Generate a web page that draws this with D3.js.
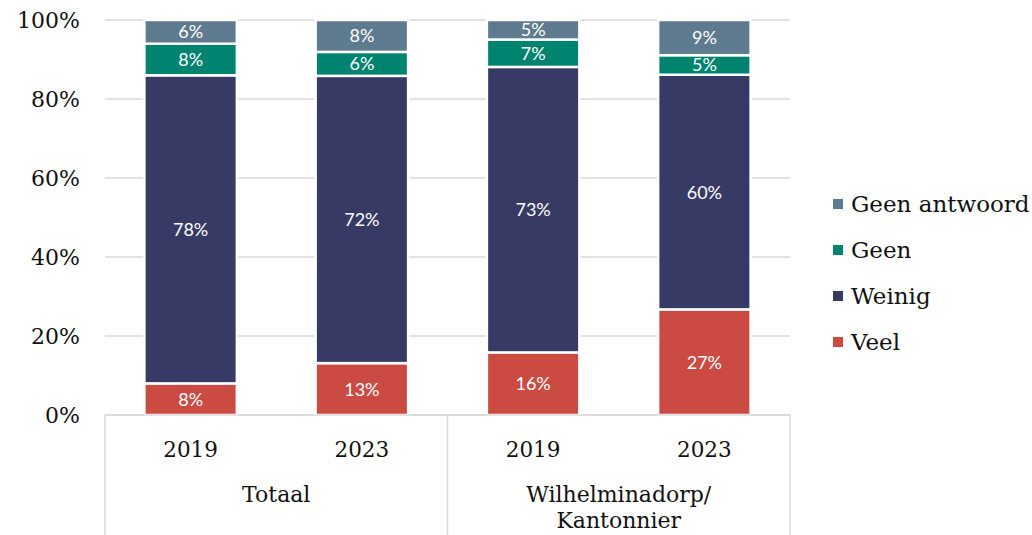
<!DOCTYPE html>
<html>
<head>
<meta charset="utf-8">
<title>Stacked bars</title>
<script src="https://d3js.org/d3.v7.min.js"></script>
<style>
body { margin: 0; background: #fff; }
.serif { font-family: "DejaVu Serif", "Liberation Serif", serif; fill: #111; }
.lbl { font-family: Lato, "Open Sans", sans-serif; fill: #fff; font-size: 18px; }
</style>
</head>
<body>
<script>
// data
var groups = ["Totaal", "Wilhelminadorp/\nKantonnier"];
var years = ["2019", "2023"];
var series = ["Veel", "Weinig", "Geen", "Geen antwoord"];
var veel = [8, 13, 16, 27];
var weinig = [78, 72, 73, 60];
var geen = [8, 6, 7, 5];
var geenAntwoord = [6, 8, 5, 9];
var yTicks = [0, 20, 40, 60, 80, 100];
var colors = ["#cb4b42", "#383a66", "#00836f", "#5f7b8f"];

var width = 1032, height = 535;
var margin = {left: 105, right: 242, top: 20, bottom: 120};

var rows = [];
veel.forEach(function(v, i) {
  rows.push({key: i, group: groups[Math.floor(i / 2)], year: years[i % 2],
    "Veel": v, "Weinig": weinig[i], "Geen": geen[i], "Geen antwoord": geenAntwoord[i]});
});

var svg = d3.select("body").append("svg")
    .attr("width", width)
    .attr("height", height);

var x = d3.scaleBand()
    .domain(rows.map(function(d) { return d.key; }))
    .range([margin.left, width - margin.right])
    .paddingInner(0.46)
    .paddingOuter(0.23);

var y = d3.scaleLinear()
    .domain([0, 1])
    .range([height - margin.bottom, margin.top]);

var color = d3.scaleOrdinal().domain(series).range(colors);

// gridlines
svg.append("g").selectAll("line")
    .data(yTicks)
  .enter().append("line")
    .attr("x1", margin.left)
    .attr("x2", width - margin.right)
    .attr("y1", function(d) { return y(d / 100); })
    .attr("y2", function(d) { return y(d / 100); })
    .style("stroke", "#d9d9d9")
    .style("stroke-width", 1.5);

// y labels
svg.append("g").selectAll("text")
    .data(yTicks)
  .enter().append("text")
    .attr("class", "serif")
    .attr("x", 80)
    .attr("y", function(d) { return y(d / 100); })
    .attr("dy", "0.35em")
    .attr("text-anchor", "end")
    .style("font-size", "22px")
    .text(function(d) { return d + "%"; });

var stack = d3.stack().keys(series).offset(d3.stackOffsetExpand);
var stacked = stack(rows);

var layer = svg.append("g").selectAll("g")
    .data(stacked)
  .enter().append("g")
    .style("fill", function(d) { return color(d.key); });

layer.selectAll("rect")
    .data(function(d) { return d; })
  .enter().append("rect")
    .attr("x", function(d) { return x(d.data.key); })
    .attr("width", x.bandwidth())
    .attr("y", function(d) { return y(d[1]); })
    .attr("height", function(d) { return y(d[0]) - y(d[1]); })
    .style("stroke", "#fff")
    .style("stroke-width", 2.5);

layer.each(function(s) {
  d3.select(this).selectAll("text")
      .data(s)
    .enter().append("text")
      .attr("class", "lbl")
      .attr("x", function(d) { return x(d.data.key) + x.bandwidth() / 2; })
      .attr("y", function(d) { return (y(d[0]) + y(d[1])) / 2; })
      .attr("dy", "0.36em")
      .attr("text-anchor", "middle")
      .text(function(d) { return d.data[s.key] + "%"; });
});

// category axis
var axisY = y(0);
var ax = svg.append("g").style("stroke", "#d9d9d9").style("stroke-width", 1.5);
ax.append("line")
    .attr("x1", margin.left).attr("x2", width - margin.right)
    .attr("y1", axisY).attr("y2", axisY);
var seps = [x.range()[0], x.range()[0] + (x.range()[1] - x.range()[0]) / 2, x.range()[1]];
ax.selectAll("line.sep")
    .data(seps)
  .enter().append("line")
    .attr("class", "sep")
    .attr("x1", function(d) { return d; })
    .attr("x2", function(d) { return d; })
    .attr("y1", axisY)
    .attr("y2", height);

svg.append("g").selectAll("text")
    .data(rows)
  .enter().append("text")
    .attr("class", "serif")
    .attr("x", function(d) { return x(d.key) + x.bandwidth() / 2; })
    .attr("y", 457)
    .attr("text-anchor", "middle")
    .style("font-size", "21.5px")
    .text(function(d) { return d.year; });

var gText = svg.append("g").selectAll("text")
    .data(groups)
  .enter().append("text")
    .attr("class", "serif")
    .attr("x", function(d, i) { return (seps[i] + seps[i + 1]) / 2; })
    .attr("y", 502)
    .attr("text-anchor", "middle")
    .style("font-size", "22px");
gText.selectAll("tspan")
    .data(function(d) { return d.split("\n"); })
  .enter().append("tspan")
    .attr("x", function() { return d3.select(this.parentNode).attr("x"); })
    .attr("dy", function(d, i) { return i ? 26 : 0; })
    .text(function(d) { return d; });

// legend
var legend = svg.append("g").selectAll("g")
    .data(series.slice().reverse())
  .enter().append("g")
    .attr("transform", function(d, i) { return "translate(833," + (204 + i * 46) + ")"; });
legend.append("rect")
    .attr("x", 0).attr("y", -5)
    .attr("width", 10).attr("height", 10)
    .style("fill", function(d) { return color(d); });
legend.append("text")
    .attr("class", "serif")
    .attr("x", 18)
    .attr("dy", "0.35em")
    .style("font-size", "23px")
    .text(function(d) { return d; });
</script>
</body>
</html>
